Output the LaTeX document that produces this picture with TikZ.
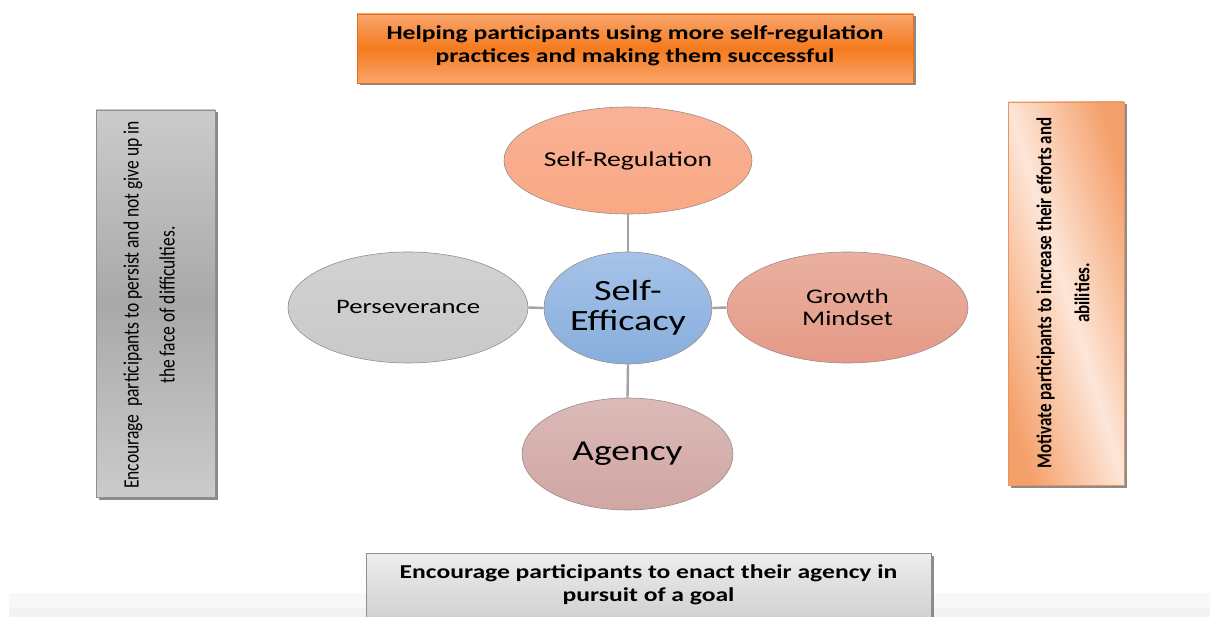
\documentclass[tikz,border=0pt]{standalone}
\usepackage{fontspec}
\setmainfont{Carlito}[FakeStretch=1.3]
\newfontfamily\rotfont{Carlito}[FakeStretch=0.8]
\usetikzlibrary{shapes.geometric,shadows}
\definecolor{topLight}{HTML}{F9A56C}
\definecolor{topDark}{HTML}{F47B1E}
\definecolor{topEdge}{HTML}{E0701A}
\definecolor{grayLight}{HTML}{CBCBCB}
\definecolor{grayDark}{HTML}{A9A9A9}
\definecolor{grayEdge}{HTML}{8F8F8F}
\definecolor{peachDark}{HTML}{F4A06A}
\definecolor{peachLight}{HTML}{FDE6D8}
\definecolor{peachEdge}{HTML}{E89560}
\definecolor{botTop}{HTML}{EDEDED}
\definecolor{botBottom}{HTML}{C6C6C6}
\definecolor{regFill}{HTML}{F9A883}
\definecolor{regTop}{HTML}{F9B196}
\definecolor{effTop}{HTML}{A6C3E8}
\definecolor{effBot}{HTML}{86AEDD}
\definecolor{perFill}{HTML}{C9C9C9}
\definecolor{perTop}{HTML}{D2D2D2}
\definecolor{groTop}{HTML}{EAB0A0}
\definecolor{groBot}{HTML}{E59A86}
\definecolor{ageTop}{HTML}{DBBAB8}
\definecolor{ageBot}{HTML}{D0A6A3}
\definecolor{ringGray}{HTML}{9A8C88}
\definecolor{linkGray}{HTML}{A3A3A3}
\definecolor{stripA}{HTML}{F8F8F8}
\definecolor{stripB}{HTML}{F2F2F2}
\tikzset{
  box/.style={draw, line width=0.8pt, inner sep=0pt,
    drop shadow={shadow xshift=2.5pt, shadow yshift=-2.5pt, fill=black!60, opacity=0.75}},
  boxtext/.style={align=center, inner sep=0pt, font=\fontsize{19.7}{23}\selectfont\bfseries},
  sidetext/.style={align=center, inner sep=0pt, rotate=90},
  bubble/.style={ellipse, draw=ringGray, line width=0.6pt, inner sep=0pt, align=center},
  link/.style={draw=linkGray, line width=2.4pt}
}
\begin{document}
\begin{tikzpicture}[x=1pt,y=-1pt]
\useasboundingbox (0,0) rectangle (1210,617);
\clip (0,0) rectangle (1210,617);
\fill[white] (0,0) rectangle (1210,617);
\fill[stripA] (9,593) rectangle (1210,617);
\fill[stripB] (9,608) rectangle (1210,617);

% outer boxes
\node[box, draw=topEdge, top color=topLight, bottom color=topLight, middle color=topDark,
      minimum width=556pt, minimum height=69pt] (goal) at (635,48.5) {};
\node[boxtext] (goaltxt) at (635,45.5) {Helping participants using more self-regulation\\practices and making them successful};

\node[box, draw=grayEdge, top color=grayLight, bottom color=grayLight, middle color=grayDark,
      minimum width=119pt, minimum height=387pt] (persist) at (155.5,303.5) {};
\node[sidetext, font=\rotfont\fontsize{21.9}{36}\selectfont] (persisttxt) at (149,305)
  {Encourage\ \ participants to persist and not give up in\\the face of difficulties.};

\node[box, draw=peachEdge, top color=peachDark, bottom color=peachDark, middle color=peachLight,
      shading angle=-73, minimum width=116pt, minimum height=383pt] (motivate) at (1066,293.5) {};
\node[sidetext, font=\rotfont\fontsize{21.2}{38}\selectfont\bfseries] (motivatetxt) at (1063,293)
  {Motivate participants to increase their efforts and\\abilities.};

\node[box, draw=grayEdge, top color=botTop, bottom color=botBottom,
      minimum width=565pt, minimum height=90pt, anchor=north] (enact) at (648.5,553) {};
\node[boxtext] (enacttxt) at (648.5,584.5) {Encourage participants to enact their agency in\\pursuit of a goal};

% bubbles
\node[bubble, top color=regTop, bottom color=regFill, minimum width=248pt, minimum height=107pt,
      font=\fontsize{21.2}{24}\selectfont] (reg) at (628,160.5) {Self-Regulation};
\node[bubble, top color=effTop, bottom color=effBot, minimum width=168pt, minimum height=112pt,
      font=\fontsize{29.4}{30}\selectfont] (eff) at (628,308) {Self-\\Efficacy};
\node[bubble, top color=perTop, bottom color=perFill, minimum width=240pt, minimum height=111pt,
      font=\fontsize{20.5}{24}\selectfont] (per) at (408,307.5) {Perseverance};
\node[bubble, top color=groTop, bottom color=groBot, minimum width=241pt, minimum height=111pt,
      font=\fontsize{20.8}{21.5}\selectfont] (gro) at (847.5,307.5) {Growth\\Mindset};
\node[bubble, top color=ageTop, bottom color=ageBot, minimum width=211pt, minimum height=112pt,
      font=\fontsize{28.8}{32}\selectfont] (age) at (627.5,454) {Agency};

% connectors
\draw[link] (reg.south) -- (eff.north);
\draw[link] (eff.south) -- (age.north);
\draw[link] (per.east) -- (eff.west);
\draw[link] (eff.east) -- (gro.west);
\end{tikzpicture}
\end{document}
